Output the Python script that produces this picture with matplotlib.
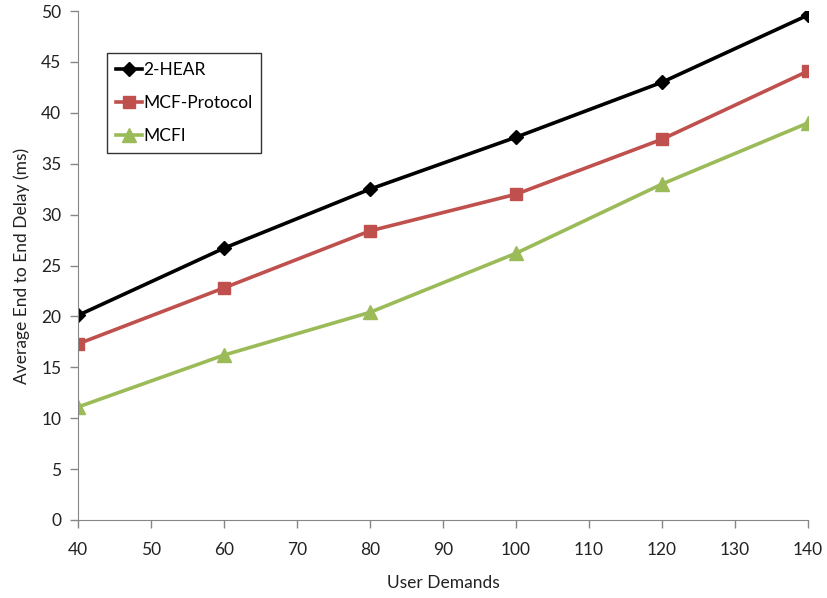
import matplotlib
matplotlib.use("Agg")
import matplotlib.pyplot as plt

# values
demands = [40, 60, 80, 100, 120, 140]
hear = [20.1, 26.7, 32.5, 37.6, 43.0, 49.6]
mcf_protocol = [17.3, 22.8, 28.4, 32.0, 37.4, 44.1]
mcfi = [11.1, 16.2, 20.4, 26.2, 33.0, 39.0]

xticks = list(range(40, 141, 10))
yticks = list(range(0, 51, 5))

plt.rcParams['font.family'] = ['Lato', 'DejaVu Sans']
plt.rcParams['font.size'] = 12.5

fig = plt.figure(figsize=(8.27, 5.98), dpi=100)
ax = fig.add_axes([78/827, 1 - 520/598, (808-78)/827, (520-11)/598])

ax.plot(demands, hear, color='black', lw=2.6, marker='D', ms=7, label='2-HEAR')
ax.plot(demands, mcf_protocol, color='#C0504D', lw=2.6, marker='s', ms=9, label='MCF-Protocol')
ax.plot(demands, mcfi, color='#9BBB59', lw=2.6, marker='^', ms=10, label='MCFI')

ax.set_xlim(40, 140)
ax.set_ylim(0, 50)
ax.set_xticks(xticks)
ax.set_yticks(yticks)
for s in ['top', 'right']:
    ax.spines[s].set_visible(False)
for s in ['left', 'bottom']:
    ax.spines[s].set_color('#868686')
ax.tick_params(colors='#868686', length=6, width=1, labelcolor='#222222', labelsize=12.5)
ax.tick_params(axis='x', pad=10)
ax.tick_params(axis='y', pad=6)
for lbl in ax.get_xticklabels() + ax.get_yticklabels():
    lbl.set_clip_on(False)

ax.set_xlabel("User Demands", fontsize=12.5, color='#222222', labelpad=12)
ax.set_ylabel("Average End to End Delay (ms)", fontsize=12.5, color='#222222', labelpad=8)

leg = ax.legend(loc='upper left', bbox_to_anchor=((107-78)/730, 1 - (53-11)/509), borderaxespad=0,
                frameon=True, fancybox=False, edgecolor='black', handlelength=1.5, handletextpad=0.1,
                borderpad=0.5, labelspacing=1.0, fontsize=12.5)
leg.get_frame().set_linewidth(1.0)

fig.savefig("out.png", dpi=100)
